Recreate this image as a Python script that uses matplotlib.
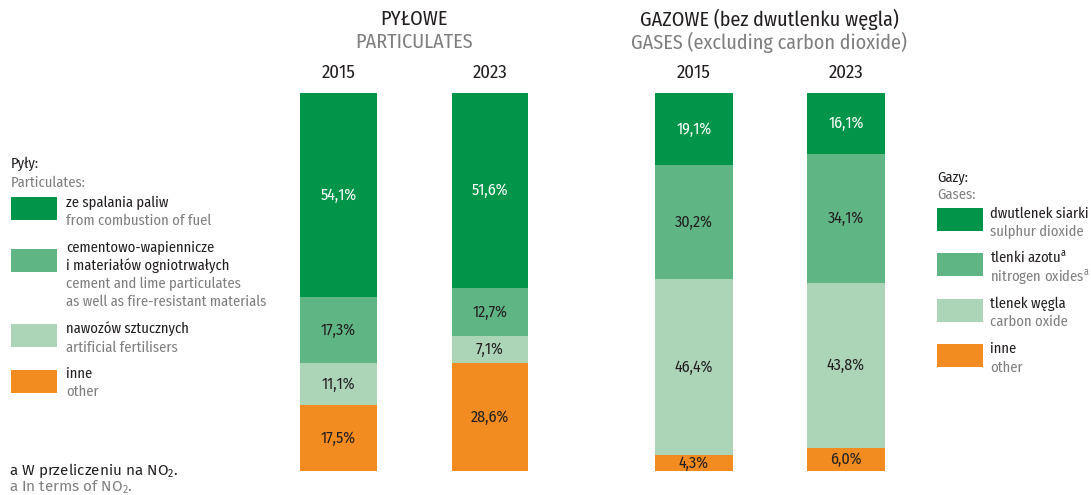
import numpy as np
import matplotlib
matplotlib.use("Agg")
import matplotlib.pyplot as plt
from matplotlib import font_manager
from matplotlib.patches import Rectangle

available = {f.name for f in font_manager.fontManager.ttflist}


def pick(cands, default='DejaVu Sans'):
    return next((c for c in cands if c in available), default)


# condensed humanist font, close to the original Myriad Condensed
FONT = pick(['Myriad Pro Cond', 'Fira Sans Condensed', 'PT Sans Narrow', 'Roboto Condensed',
             'Open Sans Condensed', 'Liberation Sans Narrow', 'Roboto'])
FONT_REG = pick(['Myriad Pro', 'Fira Sans', 'PT Sans', 'Open Sans', 'Roboto'])

plt.rcParams['font.family'] = [FONT, 'DejaVu Sans']
plt.rcParams['mathtext.fontset'] = 'custom'
plt.rcParams['mathtext.rm'] = FONT

years = ['2015', '2023']

# particulates, bottom -> top: inne, nawozow, cementowo, spalania
pm_other = [17.5, 28.6]
pm_fert = [11.1, 7.1]
pm_cement = [17.3, 12.7]
pm_fuel = [54.1, 51.6]

# gases, bottom -> top: inne, tlenek wegla, tlenki azotu, dwutlenek siarki
gas_other = [4.3, 6.0]
gas_co = [46.4, 43.8]
gas_nox = [30.2, 34.1]
gas_so2 = [19.1, 16.1]

pm_legend = [
    (['ze spalania paliw'], ['from combustion of fuel']),
    (['cementowo-wapiennicze', 'i materiałów ogniotrwałych'],
     ['cement and lime particulates', 'as well as fire-resistant materials']),
    (['nawozów sztucznych'], ['artificial fertilisers']),
    (['inne'], ['other']),
]
gas_legend = [
    (['dwutlenek siarki'], ['sulphur dioxide']),
    ([r'tlenki azotu$^{\mathregular{a}}$'], [r'nitrogen oxides$^{\mathregular{a}}$']),
    (['tlenek węgla'], ['carbon oxide']),
    (['inne'], ['other']),
]

DARK = '#009548'
MID = '#5fb584'
LIGHT = '#acd5b8'
ORANGE = '#f28b20'
TXT = '#231f20'
GREY = '#7f7f80'

W, H = 1091, 495
fig = plt.figure(figsize=(W / 100, H / 100), dpi=100)


def fx(px):
    return px / W


def fy(py):
    return 1 - py / H


def stacked(ax, series):
    bottom = np.zeros(2)
    for vals, col, tcol in series:
        bars = ax.bar([0, 1], vals, 0.508, bottom=bottom, color=col, linewidth=0)
        ax.bar_label(bars, labels=[f'{v:.1f}%'.replace('.', ',') for v in vals],
                     label_type='center', color=tcol, fontsize=11.5)
        bottom += np.array(vals)
    ax.set_xlim(-0.5, 1.5)
    ax.set_ylim(0, 100)
    ax.axis('off')


bar_bottom, bar_top = 471, 93
ax1 = fig.add_axes([fx(262.75), fy(bar_bottom), fx(303), (bar_bottom - bar_top) / H])
stacked(ax1, [(pm_other, ORANGE, TXT), (pm_fert, LIGHT, TXT),
              (pm_cement, MID, TXT), (pm_fuel, DARK, 'white')])
ax2 = fig.add_axes([fx(618), fy(bar_bottom), fx(304), (bar_bottom - bar_top) / H])
stacked(ax2, [(gas_other, ORANGE, TXT), (gas_co, LIGHT, TXT),
              (gas_nox, MID, TXT), (gas_so2, DARK, 'white')])

# titles and years
fig.text(fx(414), fy(19), 'PYŁOWE', ha='center', va='center', fontsize=14.5, color=TXT)
fig.text(fx(414), fy(42), 'PARTICULATES', ha='center', va='center', fontsize=14.5, color=GREY)
fig.text(fx(769), fy(19), 'GAZOWE (bez dwutlenku węgla)', ha='center', va='center',
         fontsize=14.5, color=TXT)
fig.text(fx(769), fy(42), 'GASES (excluding carbon dioxide)', ha='center', va='center',
         fontsize=14.5, color=GREY)
for ax in (ax1, ax2):
    for i, y in enumerate(years):
        xd = ax.transData.transform((i, 0))[0]
        fig.text(xd / W, fy(73), y, ha='center', va='center', fontsize=13.5, color=TXT)


def legend(x_patch, x_text, patch_y, text_y, entries):
    for (pl, en), col, py, ty in zip(entries, [DARK, MID, LIGHT, ORANGE], patch_y, text_y):
        fig.patches.append(Rectangle((fx(x_patch), fy(py + 23)), fx(46), 23 / H,
                                     transform=fig.transFigure, color=col, lw=0))
        lines = [(t, TXT) for t in pl] + [(t, GREY) for t in en]
        for k, (t, c) in enumerate(lines):
            fig.text(fx(x_text), fy(ty + 18.5 * k + 5), t, va='baseline', fontsize=10.5,
                     color=c)


# left legend
fig.text(fx(11), fy(168), 'Pyły:', va='baseline', fontsize=10.5, color=TXT)
fig.text(fx(11), fy(187), 'Particulates:', va='baseline', fontsize=10.5, color=GREY)
legend(11, 66, [197, 249, 324, 370], [202, 246, 328, 373], pm_legend)

# right legend
fig.text(fx(937), fy(182), 'Gazy:', va='baseline', fontsize=10.5, color=TXT)
fig.text(fx(937), fy(199), 'Gases:', va='baseline', fontsize=10.5, color=GREY)
legend(937, 990, [208, 253, 299, 344], [213, 258, 303, 348], gas_legend)

# footnote
fig.text(fx(9), fy(475), r'a W przeliczeniu na NO$_{\mathregular{2}}$.', va='baseline',
         fontsize=11, color=TXT, family=FONT_REG)
fig.text(fx(9), fy(491), r'a In terms of NO$_{\mathregular{2}}$.', va='baseline',
         fontsize=11, color=GREY, family=FONT_REG)

fig.savefig('out.png', dpi=100, facecolor='white')
